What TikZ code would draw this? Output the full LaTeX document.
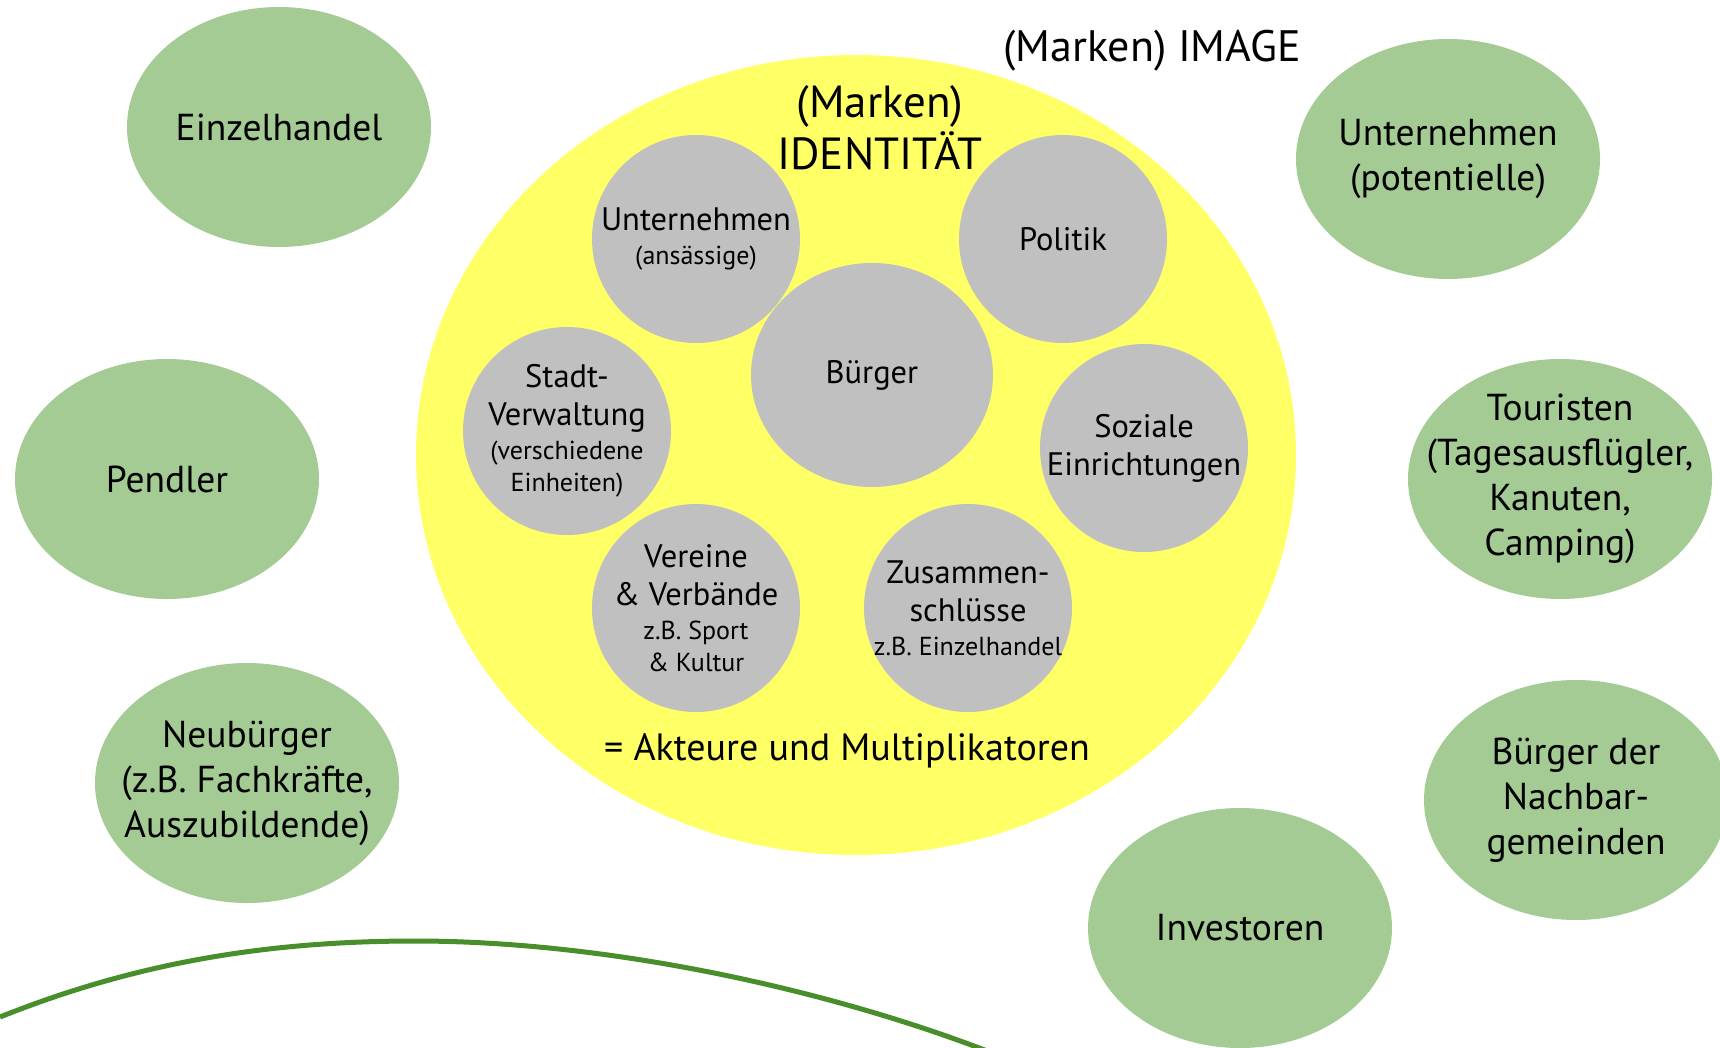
\documentclass[tikz,border=0pt]{standalone}
\usepackage{fontspec}
\setmainfont{PT Sans}
\usepackage{tikz}
\usetikzlibrary{shapes.geometric}
\definecolor{identYellow}{RGB}{255,255,102}
\definecolor{actorGray}{RGB}{192,192,192}
\definecolor{imageGreen}{RGB}{164,203,148}
\definecolor{lineGreen}{RGB}{72,142,42}
\newcommand{\smalltxt}{\fontsize{26}{32}\selectfont}

\begin{document}
\begin{tikzpicture}[x=1pt, y=-1pt,
  outer/.style={ellipse, fill=imageGreen, minimum width=304pt, minimum height=240pt,
    inner xsep=-45pt, inner ysep=-30pt, align=center, font=\fontsize{37.5}{45}\selectfont},
  actor/.style={circle, fill=actorGray, minimum size=208pt, inner sep=-30pt,
    align=center, font=\fontsize{32.5}{38}\selectfont}]
  \useasboundingbox (0,0) rectangle (1720,1047);
  \clip (0,0) rectangle (1720,1047);

  \node[ellipse, fill=identYellow, minimum width=880pt, minimum height=800pt] (ident) at (856,455) {};
  \node[font=\fontsize{44}{52}\selectfont] (image) at (1152,51) {(Marken) IMAGE};
  \node[align=center, font=\fontsize{45}{52}\selectfont] (identtitle) at (880,128) {(Marken)\\IDENTITÄT};
  \node[font=\fontsize{38}{44}\selectfont] (akteure) at (847,751) {= Akteure und Multiplikatoren};

  \node[outer] (einzel) at (279,127) {Einzelhandel};
  \node[outer] (pendler) at (167,479) {Pendler};
  \node[outer] (neu) at (247,783) {Neubürger\\(z.B. Fachkräfte,\\Auszubildende)};
  \node[outer] (untpot) at (1448,159) {Unternehmen\\(potentielle)};
  \node[outer] (tour) at (1560,479) {Touristen\\(Tagesausflügler,\\Kanuten,\\Camping)};
  \node[outer] (nachbar) at (1576,800) {Bürger der\\Nachbar-\\gemeinden};
  \node[outer] (invest) at (1240,928) {Investoren};

  \node[actor] (unt) at (696,239) {Unternehmen\\[-4pt]{\smalltxt (ansässige)}};
  \node[actor] (pol) at (1063,239) {Politik};
  \node[actor, ellipse, minimum width=242pt, minimum height=224pt] (buerger) at (872,375) {Bürger};
  \node[actor] (stadt) at (567,431) {Stadt-\\Verwaltung\\[-4pt]{\smalltxt (verschiedene}\\[-6pt]{\smalltxt Einheiten)}};
  \node[actor] (soz) at (1144,448) {Soziale\\Einrichtungen};
  \node[actor] (ver) at (696,608) {Vereine\\\& Verbände\\[-4pt]{\smalltxt z.B. Sport}\\[-6pt]{\smalltxt \& Kultur}};
  \node[actor] (zus) at (968,608) {Zusammen-\\schlüsse\\[-4pt]{\smalltxt z.B. Einzelhandel}};

  \draw[lineGreen, line width=5pt] (0,1017) .. controls (130,965) and (260,941) .. (415,941)
    .. controls (620,941) and (850,995) .. (1010,1060);
\end{tikzpicture}
\end{document}
